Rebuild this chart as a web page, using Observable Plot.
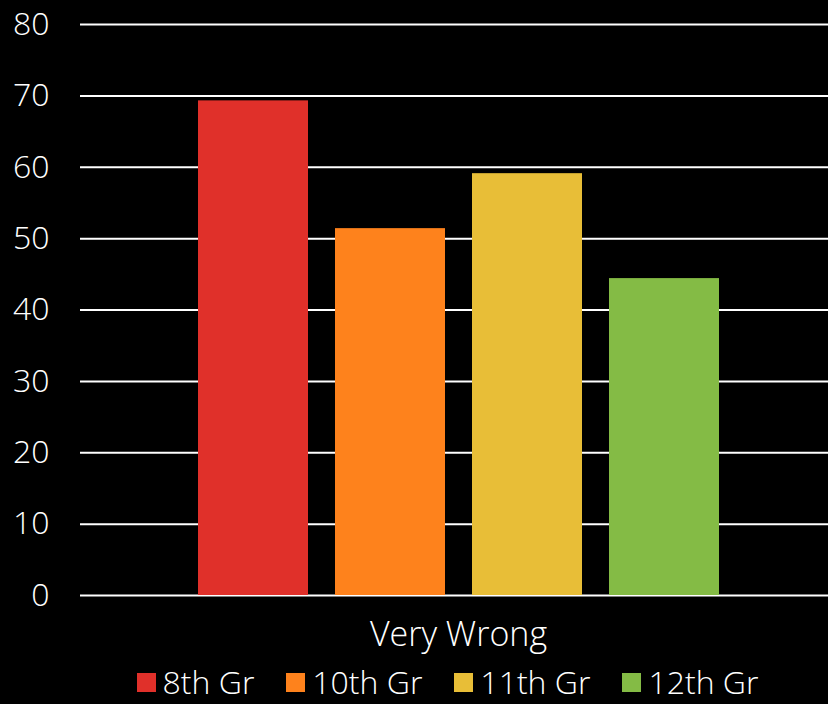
<!DOCTYPE html>
<html>
<head>
<meta charset="utf-8">
<script src="https://cdn.jsdelivr.net/npm/d3@7"></script>
<script src="https://cdn.jsdelivr.net/npm/@observablehq/plot@0.6"></script>
<style>
  html, body { margin: 0; padding: 0; background: #000; }
  #chart { width: 828px; height: 704px; overflow: hidden; font-family: "Open Sans", sans-serif; font-weight: 300; }
  #legend { display: flex; justify-content: center; margin-top: 5px; padding-left: 99px; line-height: 32px; height: 34px; }
  #legend > div { min-height: 0 !important; margin: 0 !important; line-height: 32px; }
  #legend svg { margin-right: 7px !important; }
</style>
</head>
<body>
<div id="chart"></div>
<script>
const category = "Very Wrong";
const grades = ["8th Gr", "10th Gr", "11th Gr", "12th Gr"];
const values = [69.3, 51.4, 59.1, 44.4];
const colors = ["#e0302a", "#fe821c", "#e8be37", "#84bb45"];
const yTicks = [0, 10, 20, 30, 40, 50, 60, 70, 80];

const data = grades.map((g, i) => ({grade: g, value: values[i]}));
const font = "'Open Sans', sans-serif";

const chart = Plot.plot({
  width: 828,
  height: 660,
  marginLeft: 80,
  marginRight: 0,
  marginTop: 24,
  marginBottom: 65,
  style: {background: "#000", color: "#fff", fontSize: "32px", fontFamily: font, fontWeight: 300},
  x: {domain: grades, range: [183.3, 732.5], paddingInner: 0.2, paddingOuter: 0.1, axis: null},
  y: {domain: [0, 80], label: null},
  color: {domain: grades, range: colors},
  marks: [
    Plot.ruleY(yTicks, {stroke: "#fff", strokeWidth: 2}),
    Plot.barY(data, {x: "grade", y: "value", fill: "grade"}),
    Plot.axisY({ticks: yTicks, tickSize: 0, tickPadding: 31, fill: "#fff", fontSize: 32, label: null, tickFormat: d => d}),
    Plot.text([category], {frameAnchor: "bottom", dx: 4, dy: 40, text: d => d, fill: "#fff", fontSize: 34, lineAnchor: "middle"})
  ]
});

const legend = Plot.legend({
  color: {domain: grades, range: colors},
  swatchSize: 19,
  style: {background: "#000", color: "#fff", fontSize: "32px", fontFamily: font, fontWeight: 300}
});

const root = document.getElementById("chart");
root.appendChild(chart);
const wrap = document.createElement("div");
wrap.id = "legend";
wrap.appendChild(legend);
root.appendChild(wrap);
</script>
</body>
</html>
